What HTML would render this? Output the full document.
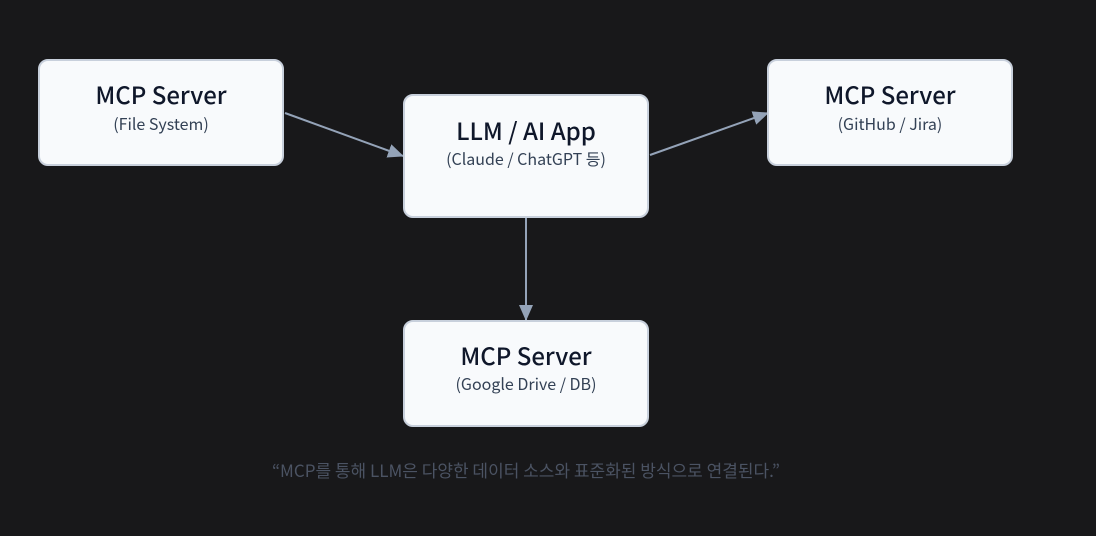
<!DOCTYPE html>
<html><head><meta charset="utf-8"><style>
html,body{margin:0;padding:0;background:#18181a;}
body{width:1096px;height:536px;position:relative;overflow:hidden;font-family:"Liberation Sans","Noto Sans CJK KR",sans-serif;}
.b{position:absolute;box-sizing:border-box;background:#f8fafc;border:2.5px solid #c8d0dc;border-radius:10px;text-align:center;color:#0f172a;}
.t{position:absolute;left:0;right:0;font-size:24px;line-height:28px;font-family:"Noto Sans CJK KR","Liberation Sans",sans-serif;font-weight:500;}
.s{position:absolute;left:0;right:0;font-size:16px;line-height:20px;color:#334155;font-family:"Noto Sans CJK KR","Liberation Sans",sans-serif;}
.cap{position:absolute;left:0;width:1052px;top:457px;text-align:center;font-size:17px;color:#4b5363;font-family:"Noto Sans CJK KR","Liberation Sans",sans-serif;}
</style></head><body>
<svg width="1096" height="536" style="position:absolute;left:0;top:0">
<defs><marker id="a" markerWidth="10" markerHeight="10" refX="9" refY="5" orient="auto" markerUnits="userSpaceOnUse"><path d="M0,0 L10,5 L0,10 z" fill="#94a3b8"/></marker>
<marker id="c" markerWidth="16" markerHeight="14" refX="15" refY="7" orient="auto" markerUnits="userSpaceOnUse"><path d="M0,0 L16,7 L0,14 z" fill="#94a3b8"/></marker></defs>
<g stroke="#94a3b8" stroke-width="2" fill="none">
<line x1="285" y1="113" x2="403" y2="156" marker-end="url(#c)"/>
<line x1="650" y1="155" x2="768" y2="113" marker-end="url(#c)"/>
<line x1="526" y1="218" x2="526" y2="320" marker-end="url(#c)"/>
</g></svg>
<div class="b" style="left:38px;top:59px;width:246px;height:107px"><div class="t" style="top:19px">MCP Server</div><div class="s" style="top:52px">(File System)</div></div>
<div class="b" style="left:403px;top:94px;width:246px;height:124px"><div class="t" style="top:20px">LLM / AI App</div><div class="s" style="top:52px">(Claude / ChatGPT 등)</div></div>
<div class="b" style="left:767px;top:59px;width:246px;height:107px"><div class="t" style="top:19px">MCP Server</div><div class="s" style="top:52px">(GitHub / Jira)</div></div>
<div class="b" style="left:403px;top:320px;width:246px;height:107px"><div class="t" style="top:19px">MCP Server</div><div class="s" style="top:51px">(Google Drive / DB)</div></div>
<div class="cap">“MCP를 통해 LLM은 다양한 데이터 소스와 표준화된 방식으로 연결된다.”</div>
</body></html>
